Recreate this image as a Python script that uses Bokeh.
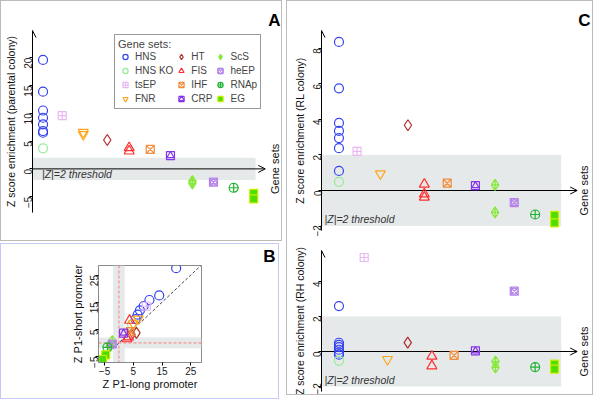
import math
from bokeh.plotting import figure
from bokeh.models import (Arrow, OpenHead, BoxAnnotation, Label, Legend, LegendItem,
                          Span, Slope, Range1d, FixedTicker, Column, Row)
from bokeh.embed import file_html
from bokeh.resources import INLINE

FONT = "Liberation Sans"
THRESH = 2

GENE_SETS = ["HNS", "HNS KO", "tsEP", "FNR", "HT", "FIS", "IHF", "CRP",
             "ScS", "heEP", "RNAp", "EG"]

# ---------------- Panel A: Z score enrichment (parental colony) -------------
A_POS = {"HNS": 1.0, "HNS KO": 1.0, "tsEP": 1.91, "FNR": 2.91, "HT": 4.05,
         "FIS": 5.09, "IHF": 6.09, "CRP": 7.05, "ScS": 8.09, "heEP": 9.09,
         "RNAp": 10.05, "EG": 11.0}
A_Z = {"HNS": [19.6, 13.9, 10.5, 9.2, 8.0, 6.8, 6.5],
       "HNS KO": [3.7],
       "tsEP": [9.6],
       "FNR": [6.6, 6.2],
       "HT": [5.2],
       "FIS": [3.8, 3.2],
       "IHF": [3.5],
       "CRP": [2.4],
       "ScS": [-2.2, -2.6],
       "heEP": [-2.4],
       "RNAp": [-3.4],
       "EG": [-4.4, -5.4]}
A_TICKS = [-5, 0, 5, 10, 15, 20]

# ---------------- Panel B: P1-long vs P1-short promoter Z -------------------
B_LONG = {"HNS": [19.9, 14.0, 10.6, 8.6, 7.3, 6.5, 5.8],
          "HNS KO": [4.6],
          "tsEP": [9.5],
          "FNR": [6.7, 5.0],
          "HT": [6.1, 4.4],
          "FIS": [3.7, 3.3, 2.8],
          "IHF": [3.9],
          "CRP": [1.6],
          "ScS": [-2.3, -3.2],
          "heEP": [-2.3],
          "RNAp": [-4.0],
          "EG": [-4.6, -5.7]}
B_SHORT = {"HNS": [27.5, 17.5, 15.8, 13.6, 12.0, 10.4, 8.8],
           "HNS KO": [6.8],
           "tsEP": [13.5],
           "FNR": [8.8, 7.1],
           "HT": [3.7, 3.1],
           "FIS": [8.3, 2.2, 1.5],
           "IHF": [4.2],
           "CRP": [3.6],
           "ScS": [0.7, -1.0],
           "heEP": [-0.4],
           "RNAp": [-1.6],
           "EG": [-4.4, -6.1]}
B_TICKS = [-5, 5, 15, 25]

# ---------------- Panel C top: Z score enrichment (RL colony) ---------------
C1_POS = {"HNS": 1.0, "HNS KO": 1.0, "tsEP": 1.84, "FNR": 2.92, "HT": 4.2,
          "FIS": 4.96, "IHF": 6.02, "CRP": 7.33, "ScS": 8.24, "heEP": 9.13,
          "RNAp": 10.1, "EG": 11.0}
C1_Z = {"HNS": [8.36, 5.75, 3.8, 3.35, 2.95, 2.38, 1.1],
        "HNS KO": [0.49],
        "tsEP": [2.2],
        "FNR": [0.94],
        "HT": [3.67],
        "FIS": [0.35, -0.2, -0.38],
        "IHF": [0.41],
        "CRP": [0.27],
        "ScS": [0.32, -1.23],
        "heEP": [-0.68],
        "RNAp": [-1.35],
        "EG": [-1.4, -1.82]}
C1_TICKS = [-2, 0, 2, 4, 6, 8]

# ---------------- Panel C bottom: Z score enrichment (RH colony) ------------
C2_POS = {"HNS": 1.0, "HNS KO": 1.0, "tsEP": 2.17, "FNR": 3.25, "HT": 4.19,
          "FIS": 5.31, "IHF": 6.34, "CRP": 7.33, "ScS": 8.26, "heEP": 9.13,
          "RNAp": 10.1, "EG": 11.0}
C2_Z = {"HNS": [2.59, 0.5, 0.38, 0.25, 0.1, -0.05, -0.18],
        "HNS KO": [-0.53],
        "tsEP": [5.36],
        "FNR": [-0.45],
        "HT": [0.51],
        "FIS": [-0.27, -0.82],
        "IHF": [-0.22],
        "CRP": [0.04],
        "ScS": [-0.58, -0.9],
        "heEP": [3.44],
        "RNAp": [-0.89],
        "EG": [-0.72, -1.0]}
C2_TICKS = [-2, 0, 2, 4]

# ---------------- styles: (marker, line colour, fill colour, size) ----------
STYLE = {
    "HNS": [("circle", "#3444f0", None, 9)],
    "HNS KO": [("circle", "#94ec94", None, 9)],
    "tsEP": [("square_cross", "#e8b8f2", None, 8)],
    "FNR": [("inverted_triangle", "#ffa51c", None, 10)],
    "HT": [("diamond", "#b42c2c", None, 11)],
    "FIS": [("triangle", "#ff2e2e", None, 10)],
    "IHF": [("square_x", "#f28c38", None, 8)],
    "CRP": [("square", "#8434ea", None, 8), ("triangle", "#8434ea", None, 7)],
    "ScS": [("diamond_cross", "#84e834", None, 11)],
    "heEP": [("square_x", "#b484ea", None, 8), ("circle", "#b484ea", None, 6)],
    "RNAp": [("circle_cross", "#22b232", None, 9)],
    "EG": [("square", "#c8f000", "#4ede00", 8)],
}
BAND = "#e6e9e9"
BORDER = "#bcbcbc"


def add_points(p, name, xs, ys):
    rs = []
    for marker, line, fill, size in STYLE[name]:
        rs.append(p.scatter(x=xs, y=ys, marker=marker, size=size,
                            line_color=line, fill_color=fill, line_width=1.2))
    return rs


def style_axis(ax, label):
    ax.axis_label = label
    ax.axis_label_text_font = FONT
    ax.axis_label_text_font_style = "normal"
    ax.axis_label_text_font_size = "10.5px"
    ax.axis_label_text_color = "#111111"
    ax.axis_label_standoff = 1
    ax.major_label_text_font = FONT
    ax.major_label_text_font_size = "10px"
    ax.major_label_text_color = "#222222"
    ax.major_label_standoff = 1
    ax.minor_tick_line_color = None
    ax.major_tick_in = 0
    ax.major_tick_out = 3


def panel_letter(p, text, offset):
    p.title.text = text
    p.title.align = "right"
    p.title.offset = offset
    p.title.standoff = 2
    p.title.text_font = FONT
    p.title.text_font_size = "17px"
    p.title.text_font_style = "bold"
    p.title.text_color = "black"


def enrich_fig(fw, fh, borders, xr, yr, ticks, ylabel, pos, z, band_right,
               arrow_right, gs_x, thr_xy):
    left, right, top, bottom = borders
    p = figure(frame_width=fw, frame_height=fh,
               x_range=Range1d(*xr), y_range=Range1d(*yr),
               output_backend="svg", toolbar_location=None,
               x_axis_location=None,
               min_border_left=left, min_border_right=right,
               min_border_top=top, min_border_bottom=bottom)
    p.grid.visible = False
    p.outline_line_color = None
    p.background_fill_color = "white"
    ax = p.yaxis[0]
    ax.ticker = FixedTicker(ticks=ticks)
    ax.major_label_orientation = math.pi / 2
    style_axis(ax, ylabel)
    p.add_layout(BoxAnnotation(left=xr[0], right=band_right, bottom=-THRESH,
                               top=THRESH, fill_color=BAND, fill_alpha=1,
                               line_color=None, level="underlay"))
    p.add_layout(Arrow(x_start=xr[0], y_start=0, x_end=arrow_right, y_end=0,
                       line_color="black", line_width=1, level="underlay",
                       end=OpenHead(size=7, line_width=1, line_color="black")))
    p.add_layout(Arrow(x_start=xr[0], y_start=yr[0], x_end=xr[0], y_end=yr[1],
                       line_color="black", line_width=1,
                       end=OpenHead(size=7, line_width=1, line_color="black")))
    p.add_layout(Label(x=gs_x, y=0.0, text="Gene sets", angle=math.pi / 2,
                       text_align="center", text_baseline="middle",
                       text_font=FONT, text_font_size="11px",
                       text_color="#111111"))
    p.add_layout(Label(x=thr_xy[0], y=thr_xy[1], text="|Z|=2 threshold",
                       text_align="left", text_baseline="middle",
                       text_font=FONT, text_font_size="10.5px",
                       text_font_style="italic", text_color="#333333"))
    items = []
    for name in GENE_SETS:
        xs = [pos[name]] * len(z[name])
        rs = add_points(p, name, xs, z[name])
        items.append(LegendItem(label=name, renderers=rs))
    return p, items


# ---------------- Panel A ---------------------------------------------------
pA, itemsA = enrich_fig(249, 182, (28, 0, 29, 28), (0.5, 12.32), (-7.85, 24.9),
                        A_TICKS, "Z score enrichment (parental colony)",
                        A_POS, A_Z, 11.09, 11.55, 12.03, (0.95, -1.0))
panel_letter(pA, "A", 1)
legend = Legend(items=itemsA, location=(82, 103), nrows=4, ncols=3,
                orientation="vertical", title="Gene sets:",
                title_text_font=FONT, title_text_font_size="11px",
                title_text_font_style="normal", title_standoff=0,
                label_text_font=FONT, label_text_font_size="10px",
                glyph_width=14, glyph_height=13, label_height=13,
                label_standoff=3, spacing=1, padding=3, margin=0,
                border_line_color="#333333", border_line_width=1,
                background_fill_color="white", background_fill_alpha=1)
pA.add_layout(legend)

# ---------------- Panel B ---------------------------------------------------
pB = figure(frame_width=103, frame_height=97, x_range=Range1d(-7.1, 28.7),
            y_range=Range1d(-7.2, 28.5), output_backend="svg",
            toolbar_location=None,
            min_border_left=97, min_border_right=77, min_border_top=15,
            min_border_bottom=36)
pB.grid.visible = False
pB.outline_line_color = "#8a8a8a"
for ax, lab in ((pB.xaxis[0], "Z P1-long promoter"),
                (pB.yaxis[0], "Z P1-short promoter")):
    ax.ticker = FixedTicker(ticks=B_TICKS)
    style_axis(ax, lab)
    ax.axis_line_color = "#8a8a8a"
    ax.axis_label_standoff = 0
    ax.axis_label_text_font_size = "11px"
pB.yaxis[0].major_label_orientation = math.pi / 2
pB.add_layout(BoxAnnotation(left=-THRESH, right=THRESH, fill_color=BAND,
                            fill_alpha=1, line_color=None, level="underlay"))
pB.add_layout(BoxAnnotation(bottom=-THRESH, top=THRESH, fill_color=BAND,
                            fill_alpha=1, line_color=None, level="underlay"))
pB.add_layout(Span(location=0, dimension="height", line_color="#ff7a7a",
                   line_width=1, line_dash="3 2", level="underlay"))
pB.add_layout(Span(location=0, dimension="width", line_color="#ff7a7a",
                   line_width=1, line_dash="3 2", level="underlay"))
pB.add_layout(Slope(gradient=1, y_intercept=0, line_color="#444444",
                    line_width=1, line_dash="3 2", level="underlay"))
for name in GENE_SETS:
    add_points(pB, name, B_LONG[name], B_SHORT[name])
panel_letter(pB, "B", -74)
pB.title.standoff = 0

# ---------------- Panel C ---------------------------------------------------
pC1, _ = enrich_fig(271, 200, (34, 0, 29, 6), (0.19, 12.76), (-2.25, 9.0),
                    C1_TICKS, "Z score enrichment (RL colony)",
                    C1_POS, C1_Z, 11.31, 12.05, 12.38, (0.33, -1.6))
panel_letter(pC1, "C", 2)
pC2, _ = enrich_fig(271, 141, (34, 0, 14, 3), (0.19, 12.76), (-2.28, 5.76),
                    C2_TICKS, "Z score enrichment (RH colony)",
                    C2_POS, C2_Z, 11.31, 12.05, 12.38, (0.33, -1.6))

boxA = Row(children=[pA], styles={"border": "1px solid " + BORDER})
boxB = Row(children=[pB], styles={"border": "1px solid #c6c8f6"})
boxC = Column(children=[Row(children=[pC1]), Row(children=[pC2])], spacing=0,
              styles={"border": "1px solid " + BORDER})
colAB = Column(children=[boxA, boxB], spacing=2)
page = Row(children=[colAB, boxC], spacing=4)

open("out.html", "w").write(file_html(page, INLINE))
